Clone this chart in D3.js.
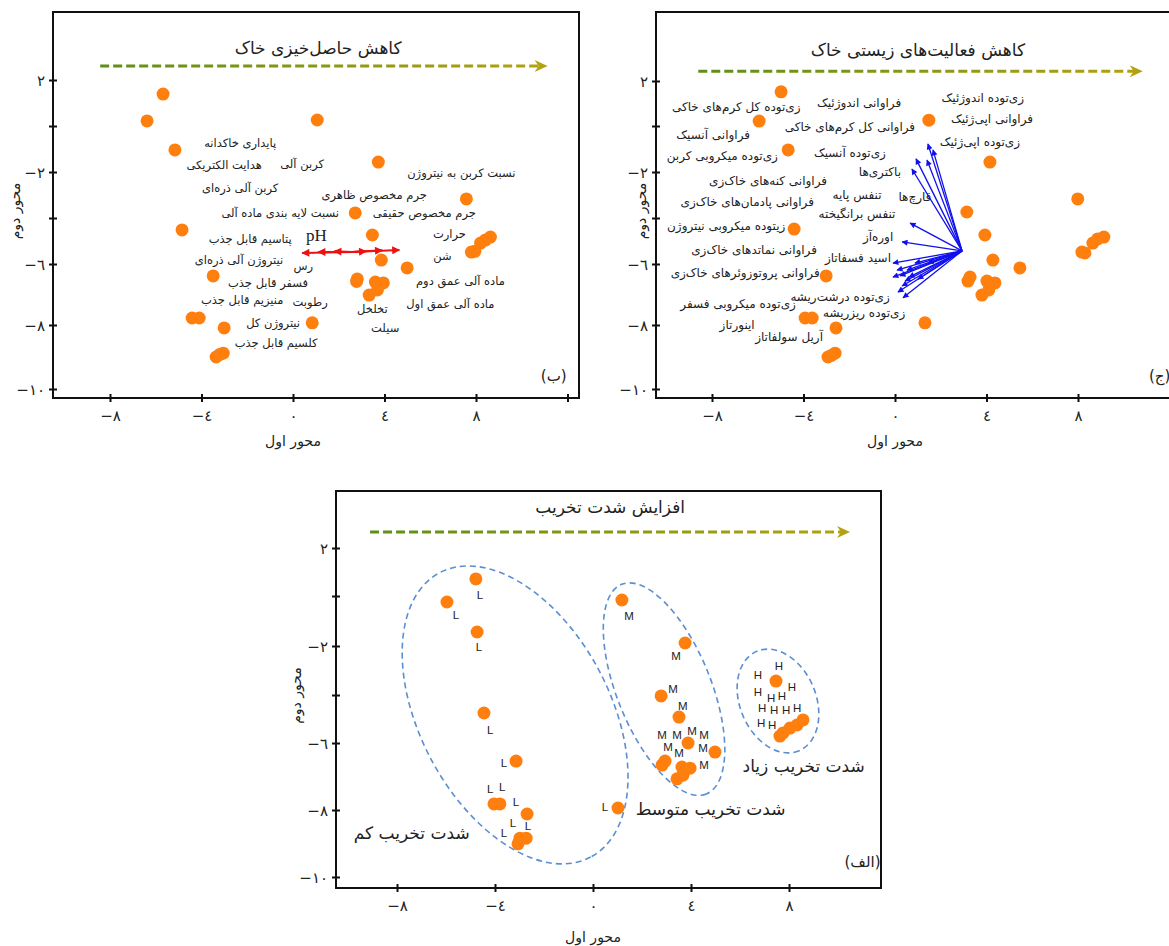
<!DOCTYPE html>
<html><head><meta charset="utf-8">
<script src="https://cdn.jsdelivr.net/npm/d3@7"></script>
<style>body{margin:0;background:#fff}svg{display:block}text{font-family:"DejaVu Sans",sans-serif;fill:#222}</style>
</head><body><svg id="c" width="1169" height="946"></svg>
<script>
// ---------- data ----------
const yTickValues = [2, 0, -2, -4, -6, -8, -10];
const yTickLabels = ["٢", "", "−٢", "", "−٦", "−٨", "−١٠"];
const xTickValues = [-8, -4, 0, 4, 8, 12];
const xTickLabels = ["−٨", "−٤", "٠", "٤", "٨", ""];

// panel (ب) soil fertility
const fertilityScores = [[-5.68,1.39],[-6.38,0.22],[-5.16,-1.04],[1.06,0.26],[3.73,-1.57],[7.58,-3.17],[2.72,-3.78],[-4.85,-4.52],[3.47,-4.74],[3.86,-5.83],[4.99,-6.13],[-3.49,-6.39],[2.81,-6.49],[2.78,-6.57],[3.60,-6.59],[3.95,-6.62],[3.69,-6.85],[3.33,-7.02],[7.80,-5.48],[7.95,-5.45],[8.20,-5.09],[8.41,-4.96],[8.63,-4.83],[-4.41,-7.77],[-4.10,-7.77],[-3.01,-8.09],[-3.36,-9.0],[-3.05,-8.88],[-3.20,-8.92],[0.84,-7.93]];
const fertilityVars = [["پایداری خاکدانه",-2.31,-0.74],["کربن آلی",0.40,-1.65],["هدایت الکتریکی",-3.01,-1.70],["کربن آلی ذره‌ای",-2.31,-2.70],["نسبت لایه بندی ماده آلی",-0.56,-3.78],["پتاسیم قابل جذب",-1.87,-4.91],["نیتروژن آلی ذره‌ای",-2.36,-5.83],["رس",0.45,-6.07],["فسفر قابل جذب",-1.09,-6.62],["رطوبت",0.75,-7.25],["منیزیم قابل جذب",-2.22,-7.18],["نیتروژن کل",-0.87,-7.93],["کلسیم قابل جذب",-0.74,-8.56],["نسبت کربن به نیتروژن",7.36,-2.04],["جرم مخصوص ظاهری",3.55,-3.0],["جرم مخصوص حقیقی",5.74,-3.78],["حرارت",6.84,-4.70],["شن",6.53,-5.65],["ماده آلی عمق دوم",7.32,-6.56],["ماده آلی عمق اول",6.88,-7.31],["تخلخل",3.47,-7.48],["سیلت",4.03,-8.09]];
const phOrigin = [2.59,-5.48];
const phTips = [[0.40,-5.52],[4.65,-5.39],[1.10,-5.48],[1.80,-5.45],[3.20,-5.45],[3.90,-5.40]];

// panel (ج) soil biology
const biologyScores = [[-4.98,1.52],[-5.94,0.22],[-4.67,-1.04],[1.48,0.26],[4.15,-1.57],[7.99,-3.17],[3.14,-3.74],[-4.41,-4.48],[3.93,-4.74],[4.28,-5.83],[5.46,-6.13],[-3.01,-6.39],[3.28,-6.43],[3.19,-6.56],[4.02,-6.56],[4.37,-6.62],[4.10,-6.85],[3.80,-7.02],[8.17,-5.48],[8.30,-5.52],[8.65,-5.09],[8.86,-4.91],[9.13,-4.83],[-3.93,-7.77],[-3.62,-7.77],[-2.58,-8.09],[-2.93,-9.0],[-2.62,-8.88],[-2.78,-8.95],[1.31,-7.93]];
const biologyVars = [["زی‌توده کل کرم‌های خاکی",-6.94,0.83],["فراوانی اندوژئیک",-1.57,1.04],["زی‌توده  اندوژئیک",3.84,1.26],["فراوانی کل کرم‌های خاکی",-1.97,-0.04],["فراوانی اپی‌ژئیک",4.24,0.30],["زی‌توده اپی‌ژئیک",3.71,-0.70],["فراوانی آنسیک",-7.95,-0.39],["زی‌توده میکروبی کربن",-7.55,-1.30],["زی‌توده  آنسیک",-1.97,-1.17],["باکتری‌ها",-0.66,-2.0],["فراوانی کنه‌های خاک‌زی",-5.55,-2.39],["قارچ‌ها",0.87,-3.09],["تنفس پایه",-1.66,-3.0],["فراوانی پادمان‌های خاک‌زی",-6.46,-3.30],["تنفس برانگیخته",-1.66,-3.83],["زیتوده میکروبی نیتروژن",-7.38,-4.35],["اوره‌آز",-0.74,-4.83],["فراوانی نماتدهای خاک‌زی",-6.16,-5.39],["اسید فسفاتاز",-1.62,-5.74],["فراوانی پروتوزوئرهای خاک‌زی",-6.55,-6.30],["زی‌توده درشت‌ریشه",-2.40,-7.08],["زی‌توده میکروبی فسفر",-6.86,-7.31],["زی‌توده ریزریشه",-1.35,-7.61],["اینورتاز",-6.90,-8.0],["آریل سولفاتاز",-4.63,-8.38]];
const bioOrigin = [2.93,-5.43];
const bioTips = [[1.44,-0.78],[1.66,-1.04],[0.92,-1.43],[1.40,-1.48],[0.74,-1.87],[0.66,-4.22],[0.31,-5.04],[-0.09,-5.96],[0.09,-6.20],[-0.09,-6.43],[0.31,-6.72],[0.35,-7.11],[0.22,-6.39],[0.52,-6.20],[0.13,-6.92],[0.44,-6.56],[0.87,-5.96],[1.44,-5.96],[0.61,-6.43],[1.00,-6.50]];

// panel (الف) degradation severity
const lowScores = [[-4.78,0.71],[-5.96,-0.24],[-4.73,-1.44],[-4.45,-4.75],[-3.14,-6.54],[-4.04,-7.82],[-3.80,-7.82],[-2.69,-8.12],[-2.98,-8.84],[-2.73,-8.84],[-3.06,-9.01],[1.02,-7.94]];
const mediumScores = [[1.18,-0.16],[3.76,-1.88],[2.78,-4.04],[3.51,-4.92],[3.88,-6.0],[4.98,-6.27],[2.94,-6.54],[2.82,-6.66],[3.63,-6.72],[3.96,-6.75],[3.67,-6.96],[3.43,-7.07]];
const highScores = [[7.47,-3.43],[8.57,-5.04],[8.33,-5.25],[8.04,-5.38],[7.76,-5.58],[7.63,-5.71]];
const lowTags = [[-4.61,0.04],[-5.59,-0.76],[-4.65,-2.04],[-4.20,-5.46],[-3.63,-6.60],[-4.20,-7.37],[-3.71,-7.31],[-3.14,-7.76],[-3.27,-8.39],[-2.65,-8.48],[-3.63,-8.69],[0.49,-7.91]];
const mediumTags = [[1.47,-0.8],[3.39,-2.41],[3.27,-3.76],[3.67,-4.46],[2.82,-5.67],[3.43,-5.67],[4.04,-5.5],[4.53,-5.67],[3.06,-6.12],[3.51,-6.3],[4.49,-6.15],[4.53,-6.66]];
const highTags = [[7.59,-2.82],[6.73,-3.18],[8.12,-3.67],[6.73,-3.88],[7.27,-4.13],[7.71,-4.04],[6.90,-4.54],[7.39,-4.63],[7.88,-4.63],[8.33,-4.54],[6.86,-5.17],[7.31,-5.25]];
const groupNames = ["شدت تخریب کم","شدت تخریب متوسط","شدت تخریب زیاد"];
const groupNamePos = [[-7.4,-8.7],[4.8,-7.97],[8.6,-6.7]];
const groupCenters = [[-3.18,-4.83],[2.90,-3.76],[7.55,-4.25]];

const titles = ["کاهش حاصل‌خیزی خاک","کاهش فعالیت‌های زیستی خاک","افزایش شدت تخریب"];
const panelTags = ["(ب)","(ج)","(الف)"];
const axisX = "محور اول", axisY = "محور دوم";

// ---------- layout ----------
const svg = d3.select("#c");
const defs = svg.append("defs");
const orange = "#ff7f0e";
const panels = [
  {left:53, right:579, top:12, bottom:398, xr:[110,476], yr:[80,126,172,218,264,325,389], arrowY:2.61, arrowX:[-8.43,11.13], titleY:3.4, titleX:1.1, tagPos:[11.4,-9.6], ylabX:15, xlabY:441, varSize:11.5},
  {left:656, right:1183, top:12, bottom:398, xr:[712,1078], yr:[81,126,172,218,264,325,389], arrowY:2.43, arrowX:[-8.6,10.83], titleY:3.36, titleX:1.0, tagPos:[11.57,-9.6], ylabX:641, xlabY:441, varSize:12},
  {left:336, right:881, top:491, bottom:888, xr:[397,789], yr:[548,596,646,695,743,810,877], arrowY:2.67, arrowX:[-9.1,10.49], titleY:3.7, titleX:0.7, tagPos:[11.0,-9.55], ylabX:296, xlabY:937}
];
panels.forEach(p => {
  p.x = d3.scaleLinear().domain([-8, 8]).range(p.xr);
  p.y = d3.scaleLinear().domain(yTickValues).range(p.yr);
});

function drawFrame(p, i) {
  const g = svg.append("g");
  g.append("rect").attr("x", p.left).attr("y", p.top).attr("width", p.right - p.left).attr("height", p.bottom - p.top)
    .attr("fill", "none").attr("stroke", "#111").attr("stroke-width", 2);
  const xt = xTickValues.filter(v => p.x(v) < p.right - 2);
  const ax = g.append("g").attr("transform", `translate(0,${p.bottom})`)
    .call(d3.axisBottom(p.x).tickValues(xt).tickFormat(d => xTickLabels[xTickValues.indexOf(d)]).tickSizeOuter(0).tickSizeInner(4).tickPadding(8));
  ax.select(".domain").remove();
  ax.selectAll(".tick line").attr("y1", -4).attr("y2", 4).attr("stroke", "#111").attr("stroke-width", 2);
  ax.selectAll(".tick text").style("font-family", "DejaVu Sans").style("font-size", "15px").attr("fill", "#222");
  const ay = g.append("g").attr("transform", `translate(${p.left},0)`)
    .call(d3.axisLeft(p.y).tickValues(yTickValues).tickFormat((d, k) => yTickLabels[k]).tickSizeOuter(0).tickSizeInner(4).tickPadding(4));
  ay.select(".domain").remove();
  ay.selectAll(".tick line").attr("x1", -4).attr("x2", 4).attr("stroke", "#111").attr("stroke-width", 2);
  ay.selectAll(".tick text").style("font-family", "DejaVu Sans").style("font-size", "15px").attr("fill", "#222").attr("dy", "0.35em");
  g.append("text").attr("x", (p.x(0))).attr("y", p.xlabY).attr("text-anchor", "middle").attr("dominant-baseline", "central")
    .style("font-size", "14px").text(axisX);
  g.append("text").attr("transform", `translate(${p.ylabX},${(p.top + p.bottom) / 2 + 6}) rotate(-90)`).attr("text-anchor", "middle")
    .attr("dominant-baseline", "central").style("font-size", "14px").text(axisY);
  const gid = "grad" + i;
  const x1 = p.x(p.arrowX[0]), x2 = p.x(p.arrowX[1]), ya = p.y(p.arrowY);
  const grad = defs.append("linearGradient").attr("id", gid).attr("gradientUnits", "userSpaceOnUse")
    .attr("x1", x1).attr("x2", x2).attr("y1", 0).attr("y2", 0);
  grad.append("stop").attr("offset", "0%").attr("stop-color", "#5e8f17");
  grad.append("stop").attr("offset", "100%").attr("stop-color", "#b3a20f");
  g.append("line").attr("x1", x1).attr("x2", x2 - 6).attr("y1", ya).attr("y2", ya)
    .attr("stroke", `url(#${gid})`).attr("stroke-width", 3).attr("stroke-dasharray", "9,4");
  g.append("path").attr("d", `M${x2},${ya} L${x2 - 13},${ya - 6} L${x2 - 9},${ya} L${x2 - 13},${ya + 6} Z`).attr("fill", "#b3a20f");
  g.append("text").attr("x", p.x(p.titleX)).attr("y", p.y(p.titleY)).attr("text-anchor", "middle").attr("dominant-baseline", "central")
    .style("font-size", "17px").text(titles[i]);
  g.append("text").attr("x", p.x(p.tagPos[0])).attr("y", p.y(p.tagPos[1])).attr("text-anchor", "middle").attr("dominant-baseline", "central")
    .style("font-size", "15px").text(panelTags[i]);
}
panels.forEach(drawFrame);

function marker(id, color, w, h) {
  defs.append("marker").attr("id", id).attr("viewBox", "0 0 10 10").attr("refX", 9).attr("refY", 5)
    .attr("markerWidth", w).attr("markerHeight", h).attr("markerUnits", "userSpaceOnUse").attr("orient", "auto")
    .append("path").attr("d", "M0,0 L10,5 L0,10 Z").attr("fill", color);
}
marker("mBlue", "#1010ee", 8, 6);
marker("mRed", "#ee1111", 9, 8);

function points(p, data) {
  svg.append("g").selectAll("circle").data(data).join("circle")
    .attr("cx", d => p.x(d[0])).attr("cy", d => p.y(d[1])).attr("r", 6.5).attr("fill", orange);
}
function varLabels(p, data, size) {
  svg.append("g").selectAll("text").data(data).join("text")
    .attr("x", d => p.x(d[1])).attr("y", d => p.y(d[2])).attr("text-anchor", "middle").attr("dominant-baseline", "central")
    .style("font-size", size + "px").attr("fill", "#333").text(d => d[0]);
}

// panel ب
const P1 = panels[0];
varLabels(P1, fertilityVars, P1.varSize);
svg.append("text").attr("x", P1.x(1.02)).attr("y", P1.y(-4.74)).attr("text-anchor", "middle").attr("dominant-baseline", "central")
  .style("font-family", "Liberation Serif").style("font-size", "17px").attr("fill", "#333").text("pH");
svg.append("g").selectAll("line").data(phTips).join("line")
  .attr("x1", P1.x(phOrigin[0])).attr("y1", P1.y(phOrigin[1])).attr("x2", d => P1.x(d[0])).attr("y2", d => P1.y(d[1]))
  .attr("stroke", "#ee1111").attr("stroke-width", 2).attr("marker-end", "url(#mRed)");
points(P1, fertilityScores);

// panel ج
const P2 = panels[1];
varLabels(P2, biologyVars, P2.varSize);
svg.append("g").selectAll("line").data(bioTips).join("line")
  .attr("x1", P2.x(bioOrigin[0])).attr("y1", P2.y(bioOrigin[1])).attr("x2", d => P2.x(d[0])).attr("y2", d => P2.y(d[1]))
  .attr("stroke", "#1010ee").attr("stroke-width", 1.3).attr("marker-end", "url(#mBlue)");
points(P2, biologyScores);

// panel الف
const P3 = panels[2];
const ellipseShape = [[161, 95, 62], [113, 47, 68], [54, 38, 67]];
svg.append("g").selectAll("ellipse").data(groupCenters).join("ellipse")
  .attr("transform", (d, k) => `translate(${P3.x(d[0])},${P3.y(d[1])}) rotate(${ellipseShape[k][2]})`)
  .attr("rx", (d, k) => ellipseShape[k][0]).attr("ry", (d, k) => ellipseShape[k][1])
  .attr("fill", "none").attr("stroke", "#5b8fd2").attr("stroke-width", 1.6).attr("stroke-dasharray", "6,4");
points(P3, lowScores); points(P3, mediumScores); points(P3, highScores);
[[lowTags, "L"], [mediumTags, "M"], [highTags, "H"]].forEach(([arr, t]) => {
  svg.append("g").selectAll("text").data(arr).join("text")
    .attr("x", d => P3.x(d[0])).attr("y", d => P3.y(d[1])).attr("text-anchor", "middle").attr("dominant-baseline", "central")
    .style("font-family", "Liberation Sans").style("font-size", "11.5px").attr("fill", "#333").text(t);
});
svg.append("g").selectAll("text").data(groupNames).join("text")
  .attr("x", (d, k) => P3.x(groupNamePos[k][0])).attr("y", (d, k) => P3.y(groupNamePos[k][1]))
  .attr("text-anchor", "middle").attr("dominant-baseline", "central").style("font-size", "17px").attr("fill", "#333").text(d => d);
</script></body></html>
